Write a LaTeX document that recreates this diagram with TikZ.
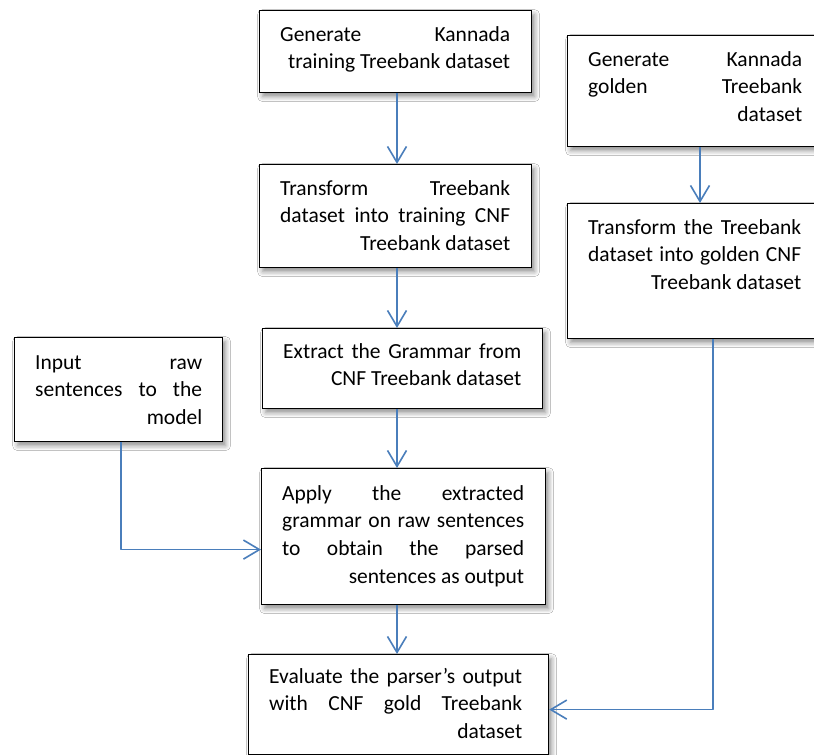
\documentclass[tikz,border=0pt]{standalone}
\usepackage{fontspec}
\setmainfont{Carlito}
\usetikzlibrary{arrows.meta,calc,shadows.blur}
\definecolor{arrowblue}{RGB}{74,126,187}
\newcommand\Lline[1]{\hbox to \linewidth{#1}}
\newcommand\btext[2]{\parbox[t]{#1}{\fontsize{21.5}{27.7}\selectfont #2}}
\tikzset{
  box/.style={draw=black, line width=1.2pt, fill=white, inner sep=0pt, anchor=north west,
    blur shadow={shadow xshift=3pt, shadow yshift=-4pt, shadow blur radius=5pt, shadow opacity=45}},
  txt/.style={anchor=base west, inner sep=0pt},
  conn/.style={draw=arrowblue, line width=1.6pt, line join=round,
    -{Straight Barb[length=16pt,width=19pt,line width=1.6pt]}}
}
\begin{document}
\begin{tikzpicture}[x=1pt,y=-1pt]
\path[use as bounding box] (0,0) rectangle (814,755);
\fill[white] (0,0) rectangle (814,755);
\clip (0,0) rectangle (814,755);
% boxes
\node[box, minimum width=272pt, minimum height=82pt]  (b1) at (259,10) {};
\node[box, minimum width=272pt, minimum height=103pt] (b2) at (259,164) {};
\node[box, minimum width=280pt, minimum height=80pt]  (b3) at (262,328) {};
\node[box, minimum width=284pt, minimum height=136pt] (b4) at (261,468) {};
\node[box, minimum width=300pt, minimum height=100pt] (b5) at (248,654) {};
\node[box, minimum width=270pt, minimum height=111pt] (g1) at (567,35) {};
\node[box, minimum width=270pt, minimum height=135pt] (g2) at (567,203) {};
\node[box, minimum width=208pt, minimum height=104pt] (in) at (14,337) {};
% texts
\node[txt] (t1) at ($(b1.north west)+(21,31)$) {\btext{230pt}{%
  \Lline{Generate Kannada}\Lline{\hfill training Treebank dataset}}};
\node[txt] (t2) at ($(b2.north west)+(21,31)$) {\btext{230pt}{%
  \Lline{Transform Treebank}\Lline{dataset into training CNF}\Lline{\hfill Treebank dataset}}};
\node[txt] (t3) at ($(b3.north west)+(21,30)$) {\btext{238pt}{%
  \Lline{Extract the Grammar from}\Lline{\hfill CNF Treebank dataset}}};
\node[txt] (t4) at ($(b4.north west)+(21,32)$) {\btext{242pt}{%
  \Lline{Apply the extracted}\Lline{grammar on raw sentences}\Lline{to obtain the parsed}\Lline{\hfill sentences as output}}};
\node[txt] (t5) at ($(b5.north west)+(21,29)$) {\btext{253pt}{%
  \Lline{Evaluate the parser’s output}\Lline{with CNF gold Treebank}\Lline{\hfill dataset}}};
\node[txt] (t6) at ($(g1.north west)+(21,31)$) {\btext{214pt}{%
  \Lline{Generate Kannada}\Lline{golden Treebank}\Lline{\hfill dataset}}};
\node[txt] (t7) at ($(g2.north west)+(21,31)$) {\btext{213pt}{%
  \Lline{Transform the Treebank}\Lline{dataset into golden CNF}\Lline{\hfill Treebank dataset}}};
\node[txt] (t8) at ($(in.north west)+(21,32)$) {\btext{167pt}{%
  \Lline{Input raw}\Lline{sentences to the}\Lline{\hfill model}}};
% connector columns
\coordinate (mcol) at (397,0);
\coordinate (gcol) at (700,0);
\coordinate (gdown) at (713,0);
\coordinate (icol) at (121,0);
\draw[conn] (mcol |- b1.south) -- (mcol |- b2.north);
\draw[conn] (mcol |- b2.south) -- (mcol |- b3.north);
\draw[conn] (mcol |- b3.south) -- (mcol |- b4.north);
\draw[conn] (mcol |- b4.south) -- (mcol |- b5.north);
\draw[conn] (gcol |- g1.south) -- (gcol |- g2.north);
\coordinate (b5in) at ($(b5.east)+(0,5)$);
\coordinate (b4in) at ($(b4.west)+(0,13)$);
\draw[conn] (gdown |- g2.south) |- (b5in);
\draw[conn] (icol |- in.south) |- (b4in);
\end{tikzpicture}
\end{document}
